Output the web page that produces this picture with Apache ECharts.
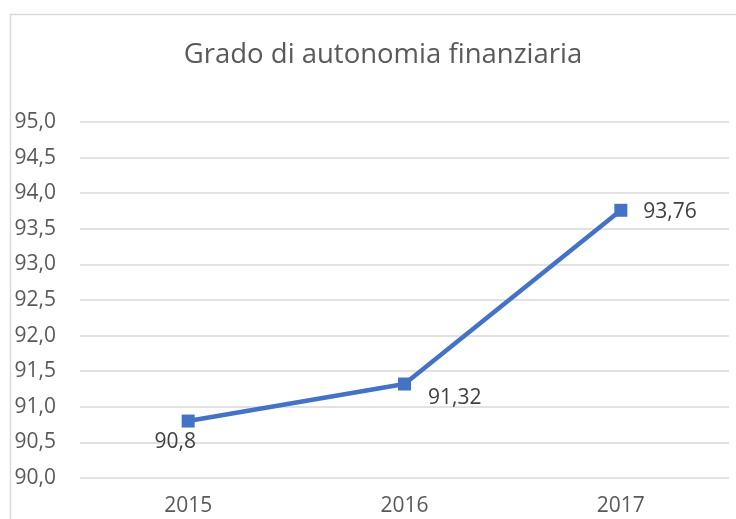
<!DOCTYPE html>
<html><head><meta charset="utf-8">
<script src="https://cdn.jsdelivr.net/npm/echarts@6/dist/echarts.min.js"></script>
<style>html,body{margin:0;padding:0;background:#fff}#c{width:736px;height:519px}</style>
</head><body><div id="c"></div>
<script>
const titleText = 'Grado di autonomia finanziaria';
const categories = ['2015', '2016', '2017'];
const values = [90.8, 91.32, 93.76];
const yMin = 90, yMax = 95, yStep = 0.5;

const fmt = v => String(v).replace('.', ',');
const labelPos = [
  {position: 'bottom', offset: [-13, -1]},
  {position: 'right', offset: [12, 14]},
  {position: 'right', offset: [11, 2]}
];
const chart = echarts.init(document.getElementById('c'), null, {renderer: 'canvas'});
chart.setOption({
  animation: false,
  textStyle: {fontFamily: 'Open Sans'},
  title: {text: titleText, left: 378, textAlign: 'center', top: 36,
    textStyle: {fontFamily: 'Open Sans', fontSize: 27.5, fontWeight: 'normal', color: '#595959'}},
  graphic: [{type: 'rect', left: 8, top: 12, shape: {width: 800, height: 600},
    style: {fill: 'none', stroke: '#d9d9d9', lineWidth: 1.5}, silent: true}],
  grid: {left: 80, right: 7, top: 122, bottom: 41, containLabel: false},
  xAxis: {type: 'category', data: categories, boundaryGap: true,
    axisLine: {show: false}, axisTick: {show: false},
    axisLabel: {fontSize: 21, color: '#595959', margin: 18, fontFamily: 'Open Sans'}},
  yAxis: {type: 'value', min: yMin, max: yMax, interval: yStep,
    axisLine: {show: false}, axisTick: {show: false},
    axisLabel: {fontSize: 21, color: '#595959', margin: 24, fontFamily: 'Open Sans',
      formatter: v => v.toFixed(1).replace('.', ',')},
    splitLine: {lineStyle: {color: '#d9d9d9', width: 1.5}}},
  series: [{type: 'line', data: values.map((v, i) => ({value: v, label: Object.assign({}, labelPos[i])})),
    symbol: 'rect', symbolSize: 13,
    lineStyle: {color: '#4472C4', width: 4.5},
    itemStyle: {color: '#4472C4'},
    label: {show: true, fontSize: 21, color: '#404040', fontFamily: 'Open Sans',
      formatter: p => fmt(p.value)}}]
});
</script></body></html>
